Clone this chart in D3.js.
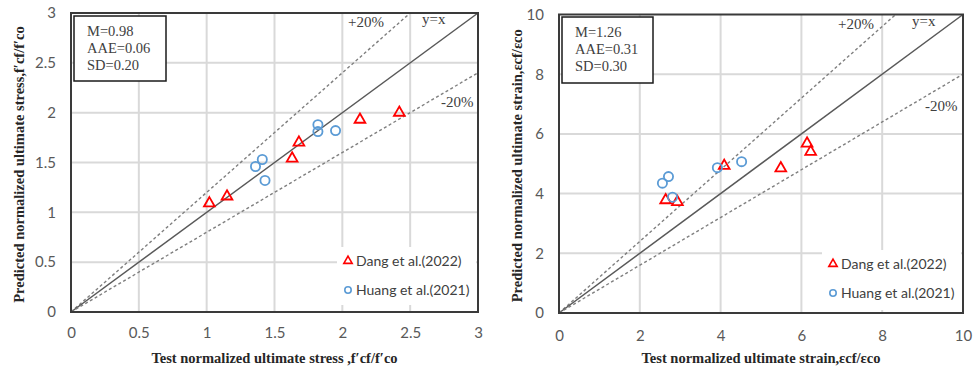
<!DOCTYPE html>
<html><head><meta charset="utf-8">
<script src="https://cdn.jsdelivr.net/npm/d3@7"></script>
<style>
html,body{margin:0;padding:0;background:#fff;}
svg{display:block;}
.tick text{font-family:Lato,"Open Sans",sans-serif;font-size:15px;fill:#595959;}
</style></head>
<body>
<svg id="c" width="973" height="369"></svg>
<script>
// ---- data ----
const stressTicks = [0, 0.5, 1, 1.5, 2, 2.5, 3];
const strainTicks = [0, 2, 4, 6, 8, 10];
const dangStressX = [1.02, 1.15, 1.63, 1.68, 2.13, 2.42];
const dangStressY = [1.09, 1.16, 1.54, 1.70, 1.93, 2.00];
const huangStressX = [1.36, 1.41, 1.43, 1.82, 1.82, 1.95];
const huangStressY = [1.46, 1.53, 1.32, 1.88, 1.81, 1.82];
const dangStrainX = [2.64, 2.93, 4.09, 5.49, 6.14, 6.23];
const dangStrainY = [3.78, 3.72, 4.93, 4.85, 5.68, 5.40];
const huangStrainX = [2.56, 2.71, 2.81, 3.92, 4.52];
const huangStrainY = [4.35, 4.57, 3.88, 4.87, 5.07];
const statsStress = ["M=0.98", "AAE=0.06", "SD=0.20"];
const statsStrain = ["M=1.26", "AAE=0.31", "SD=0.30"];
const seriesNames = ["Dang et al.(2022)", "Huang et al.(2021)"];
const lineLabels = ["+20%", "y=x", "-20%"];
const lineFactors = [1.2, 1, 0.8];

const svg = d3.select("#c");

function chart(o) {
  const x = d3.scaleLinear().domain([0, o.max]).range([o.x0, o.x1]);
  const y = d3.scaleLinear().domain([0, o.max]).range([o.y0, o.y1]);
  const g = svg.append("g");
  // gridlines
  g.selectAll(".gx").data(o.ticks.slice(1, -1)).enter().append("line")
    .attr("x1", d => x(d)).attr("x2", d => x(d)).attr("y1", o.y0).attr("y2", o.y1)
    .attr("stroke", "#d9d9d9").attr("stroke-width", 2);
  g.selectAll(".gy").data(o.ticks.slice(1, -1)).enter().append("line")
    .attr("y1", d => y(d)).attr("y2", d => y(d)).attr("x1", o.x0).attr("x2", o.x1)
    .attr("stroke", "#d9d9d9").attr("stroke-width", 2);
  // legend background
  g.append("rect").attr("x", o.leg[0]).attr("y", o.leg[1]).attr("width", o.x1 - o.leg[0] - 2)
    .attr("height", o.leg[2]).attr("fill", "#fff");
  // reference lines
  lineFactors.forEach((f, i) => {
    const xe = Math.min(o.max, o.max / f);
    g.append("line").attr("x1", x(0)).attr("y1", y(0)).attr("x2", x(xe)).attr("y2", y(xe * f))
      .attr("stroke", f === 1 ? "#595959" : "#7f7f7f")
      .attr("stroke-width", f === 1 ? 1.5 : 1.4)
      .attr("stroke-dasharray", f === 1 ? null : "3,2.5");
  });
  // axes
  const ax = d3.axisBottom(x).tickValues(o.ticks).tickSize(0).tickPadding(o.xpad).tickFormat(d3.format("~g"));
  const ay = d3.axisLeft(y).tickValues(o.ticks).tickSize(0).tickPadding(15).tickFormat(d3.format("~g"));
  g.append("g").attr("transform", `translate(0,${o.y0})`).call(ax).call(s => s.select(".domain").remove());
  g.append("g").attr("transform", `translate(${o.x0},0)`).call(ay).call(s => s.select(".domain").remove());
  // frame
  g.append("rect").attr("x", o.x0).attr("y", o.y1).attr("width", o.x1 - o.x0).attr("height", o.y0 - o.y1)
    .attr("fill", "none").attr("stroke", "#3a3a3a").attr("stroke-width", 2);
  // line labels
  o.lblPos.forEach((p, i) => {
    g.append("text").attr("x", p[0]).attr("y", p[1]).text(lineLabels[i])
      .attr("font-family", "'Liberation Serif','Times New Roman',serif").attr("font-size", 15).attr("fill", "#404040");
  });
  // markers
  const tri = d3.symbol().type(d3.symbolTriangle).size(50);
  g.selectAll(".tri").data(o.dx.map((v, i) => [v, o.dy[i]])).enter().append("path")
    .attr("d", tri).attr("transform", d => `translate(${x(d[0])},${y(d[1])})`)
    .attr("fill", "none").attr("stroke", "#ff0000").attr("stroke-width", 1.8);
  g.selectAll(".cir").data(o.hx.map((v, i) => [v, o.hy[i]])).enter().append("circle")
    .attr("cx", d => x(d[0])).attr("cy", d => y(d[1])).attr("r", 4.6)
    .attr("fill", "none").attr("stroke", "#5b9bd5").attr("stroke-width", 1.8);
  // legend
  g.append("path").attr("d", d3.symbol().type(d3.symbolTriangle).size(30)).attr("transform", `translate(${o.leg[0] + 11},${o.leg[1] + 14})`)
    .attr("fill", "none").attr("stroke", "#ff0000").attr("stroke-width", 1.6);
  g.append("circle").attr("cx", o.leg[0] + 11).attr("cy", o.leg[1] + 43).attr("r", 3.2)
    .attr("fill", "none").attr("stroke", "#5b9bd5").attr("stroke-width", 1.6);
  seriesNames.forEach((n, i) => {
    g.append("text").attr("x", o.leg[0] + 19).attr("y", o.leg[1] + 19 + i * 29).text(n)
      .attr("font-family", "Lato,'Open Sans',sans-serif").attr("font-size", 14).attr("fill", "#404040");
  });
  // stats box
  g.append("rect").attr("x", o.sb[0]).attr("y", o.sb[1]).attr("width", o.sb[2]).attr("height", o.sb[3])
    .attr("fill", "#fff").attr("stroke", "#1a1a1a").attr("stroke-width", 1.5);
  o.stats.forEach((s, i) => {
    g.append("text").attr("x", o.sb[0] + 13).attr("y", o.sb[1] + 20 + i * 17).text(s)
      .attr("font-family", "'Liberation Serif','Times New Roman',serif").attr("font-size", 14.5).attr("fill", "#404040");
  });
  // axis titles
  g.append("text").attr("x", (o.x0 + o.x1) / 2).attr("y", 363).attr("text-anchor", "middle").text(o.xt)
    .attr("font-family", "'Liberation Serif','Times New Roman',serif").attr("font-weight", "bold").attr("font-size", 14.5).attr("fill", "#262626");
  g.append("text").attr("transform", `translate(${o.ytx},${(o.y0 + o.y1) / 2 + 2}) rotate(-90)`).attr("text-anchor", "middle").text(o.yt)
    .attr("font-family", "'Liberation Serif','Times New Roman',serif").attr("font-weight", "bold").attr("font-size", 14.5).attr("fill", "#262626");
}

chart({max: 3, ticks: stressTicks, x0: 71, x1: 478, y0: 312, y1: 13, xpad: 15,
  dx: dangStressX, dy: dangStressY, hx: huangStressX, hy: huangStressY,
  stats: statsStress, sb: [74, 16, 92, 65], leg: [337, 247, 58],
  lblPos: [[348, 27], [422, 24], [441, 107]],
  xt: "Test normalized ultimate stress ,f′cf/f′co", yt: "Predicted normalized ultimate stress,f′cf/f′co", ytx: 24});

chart({max: 10, ticks: strainTicks, x0: 559, x1: 963, y0: 313, y1: 14.5, xpad: 17,
  dx: dangStrainX, dy: dangStrainY, hx: huangStrainX, hy: huangStrainY,
  stats: statsStrain, sb: [562, 17, 91, 66], leg: [822, 250, 60],
  lblPos: [[838, 29], [912, 26], [925, 111]],
  xt: "Test normalized ultimate strain,εcf/εco", yt: "Predicted normalized ultimate strain,εcf/εco", ytx: 522});
</script>
</body></html>
